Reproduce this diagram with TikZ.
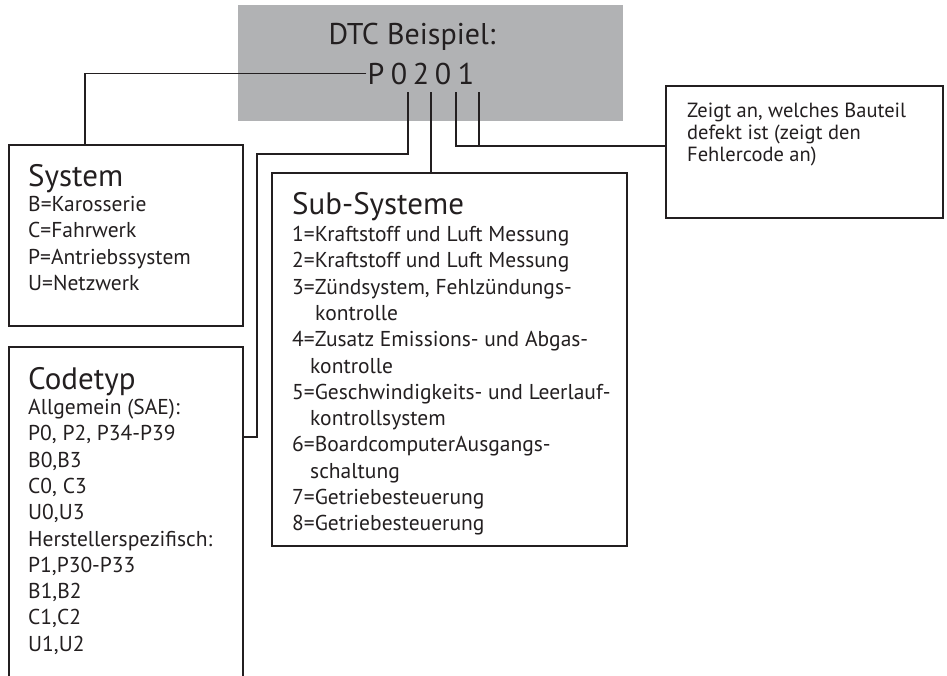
\documentclass[tikz,border=0pt]{standalone}
\usepackage{fontspec}
\setmainfont{PT Sans}
\usetikzlibrary{positioning}
\definecolor{ink}{HTML}{231F20}
\definecolor{panel}{HTML}{B1B2B4}
\tikzset{
  frame/.style={draw=ink, line width=1.6pt, inner sep=0pt, anchor=north west},
  wire/.style={draw=ink, line width=1.6pt},
  title/.style={anchor=base west, inner sep=0pt, text=ink, font=\fontsize{31}{31}\selectfont},
  items/.style={anchor=north west, inner sep=0pt, align=left, text=ink, font=\fontsize{21.5}{26.3}\selectfont},
  digit/.style={anchor=base, inner sep=1pt, text=ink, font=\fontsize{30}{30}\selectfont},
}

\begin{document}
\begin{tikzpicture}[x=1pt, y=-1pt]
  \useasboundingbox (0,0) rectangle (947,675);

  % DTC panel
  \node[fill=panel, inner sep=0pt, anchor=north west, minimum width=385pt, minimum height=116pt] (panel) at (238,5) {};
  \node[digit] (head) at (412,44) {DTC Beispiel:};
  \node[digit] (cP) at (376,84) {P};
  \node[digit] (c1) at (399,84) {0};
  \node[digit] (c2) at (421,84) {2};
  \node[digit] (c3) at (443,84) {0};
  \node[digit] (c4) at (466,84) {1};

  \coordinate (t1) at (408,92);
  \coordinate (t2) at (431,92);
  \coordinate (t3) at (456,92);
  \coordinate (t4) at (479,92);

  % boxes
  \node[frame, minimum width=234pt, minimum height=181pt] (sysbox) at (8,144) {};
  \node[frame, minimum width=234pt, minimum height=345pt] (codebox) at (8,346) {};
  \node[frame, minimum width=355pt, minimum height=373pt] (subbox) at (271,172) {};
  \node[frame, minimum width=277pt, minimum height=132pt] (partbox) at (665,85) {};

  % System
  \node[title] (systitle) at (28,186) {System};
  \node[items] (syslist) at (28,196) {B=Karosserie\\C=Fahrwerk\\P=Antriebssystem\\U=Netzwerk};

  % Codetyp
  \node[title] (codetitle) at (28,389) {Codetyp};
  \node[items] (codelist) at (28,399) {Allgemein (SAE):\\P0, P2, P34-P39\\B0,B3\\C0, C3\\U0,U3\\Herstellerspezifisch:\\P1,P30-P33\\B1,B2\\C1,C2\\U1,U2};

  % Sub-Systeme
  \node[title] (subtitle) at (292,214) {Sub-Systeme};
  \node[items] (sublist) at (292,226) {1=Kraftstoff und Luft Messung\\2=Kraftstoff und Luft Messung\\3=Zündsystem, Fehlzündungs-\\\hspace*{23pt}kontrolle\\4=Zusatz Emissions- und Abgas-\\\hspace*{18pt}kontrolle\\5=Geschwindigkeits- und Leerlauf-\\\hspace*{18pt}kontrollsystem\\6=BoardcomputerAusgangs-\\\hspace*{18pt}schaltung\\7=Getriebesteuerung\\8=Getriebesteuerung};

  % Bauteil
  \node[items, font=\fontsize{20.5}{22}\selectfont] (partnote) at (687,103) {Zeigt an, welches Bauteil\\defekt ist (zeigt den\\Fehlercode an)};

  % connectors
  \draw[wire] (cP.west) -| (sysbox.north west -| 85,0);
  \coordinate (bend1) at (257,154);
  \coordinate (codein) at (242,437);
  \draw[wire] (t1) |- (bend1) |- (codein);
  \draw[wire] (t2) -- (t2 |- subbox.north);
  \draw[wire] (t3) |- (partbox.west |- 0,146);
  \draw[wire] (t4) -- (t4 |- 0,146);
\end{tikzpicture}
\end{document}
